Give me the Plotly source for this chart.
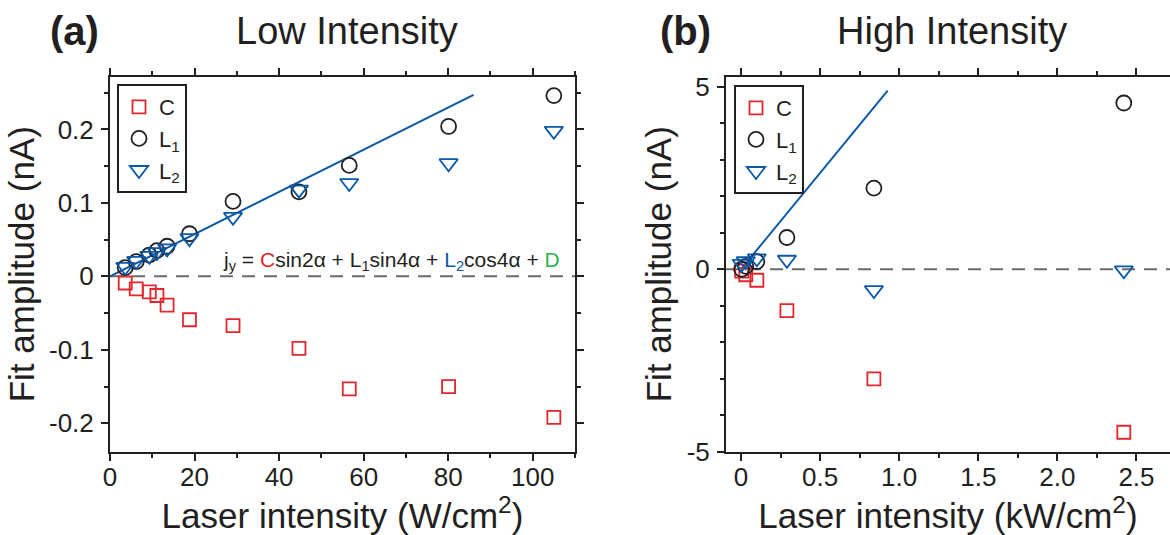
import plotly.graph_objects as go

# ---------------- data ----------------
# Panel (a): low intensity, W/cm^2
low_x_C = [3.6, 6.2, 9.3, 11.1, 13.5, 18.8, 29.1, 44.7, 56.6, 80.1, 105.0]
low_C = [-0.009, -0.017, -0.021, -0.026, -0.039, -0.059, -0.067, -0.098, -0.153, -0.150, -0.192]
low_x_L = [3.6, 6.2, 9.3, 11.1, 13.5, 18.8, 29.1, 44.7, 56.6, 80.1, 105.0]
low_L1 = [0.012, 0.020, 0.029, 0.035, 0.041, 0.058, 0.102, 0.115, 0.151, 0.204, 0.246]
low_L2 = [0.013, 0.021, 0.028, 0.033, 0.038, 0.052, 0.081, 0.118, 0.127, 0.154, 0.198]
low_fit_x = [0, 86]
low_fit_y = [0, 0.247]

# Panel (b): high intensity, kW/cm^2
high_x = [0.004, 0.03, 0.1, 0.29, 0.84, 2.42]
high_C = [-0.05, -0.15, -0.30, -1.13, -3.00, -4.46]
high_L1 = [0.0, 0.08, 0.21, 0.87, 2.22, 4.55]
high_L2 = [0.15, 0.22, 0.30, 0.26, -0.57, -0.03]
high_fit_x = [0, 0.927]
high_fit_y = [0, 4.89]

# tick labels
a_xticks = [0, 20, 40, 60, 80, 100]
a_xticktext = ["0", "20", "40", "60", "80", "100"]
a_yticks = [-0.2, -0.1, 0, 0.1, 0.2]
a_yticktext = ["-0.2", "-0.1", "0", "0.1", "0.2"]
b_xticks = [0, 0.5, 1.0, 1.5, 2.0, 2.5]
b_xticktext = ["0", "0.5", "1.0", "1.5", "2.0", "2.5"]
b_yticks = [-5, 0, 5]
b_yticktext = ["-5", "0", "5"]

# ---------------- style ----------------
W, H = 1170, 535
FONT = "Liberation Sans, Arial, Helvetica, sans-serif"
INK = "#231F20"
RED = "#E3262B"
BLUE = "#0A58A8"
GREEN = "#2DB34A"
GREY = "#6B6B6B"

fig = go.Figure()

def add_series(x, y, name, symbol, color, size, xa, ya, legend):
    fig.add_trace(go.Scatter(
        x=x, y=y, mode="markers", name=name, xaxis=xa, yaxis=ya, legend=legend,
        marker=dict(symbol=symbol, size=size, color=color,
                    line=dict(color=color, width=1.8)),
        showlegend=True))

# fit lines first (under markers)
fig.add_trace(go.Scatter(x=low_fit_x, y=low_fit_y, mode="lines", xaxis="x", yaxis="y",
                         line=dict(color=BLUE, width=2), showlegend=False, hoverinfo="skip"))
fig.add_trace(go.Scatter(x=high_fit_x, y=high_fit_y, mode="lines", xaxis="x2", yaxis="y2",
                         line=dict(color=BLUE, width=2), showlegend=False, hoverinfo="skip"))

add_series(low_x_C, low_C, "C", "square-open", RED, 13, "x", "y", "legend")
add_series(low_x_L, low_L1, "L<sub>1</sub>", "circle-open", INK, 15, "x", "y", "legend")
add_series(low_x_L, low_L2, "L<sub>2</sub>", "triangle-down-open", BLUE, 16, "x", "y", "legend")

add_series(high_x, high_C, "C", "square-open", RED, 13, "x2", "y2", "legend2")
add_series(high_x, high_L1, "L<sub>1</sub>", "circle-open", INK, 15, "x2", "y2", "legend2")
add_series(high_x, high_L2, "L<sub>2</sub>", "triangle-down-open", BLUE, 16, "x2", "y2", "legend2")

def axis(domain, rng, tickvals, ticktext, minor_dtick, title, anchor, standoff, tls):
    return dict(
        domain=domain, range=rng, anchor=anchor,
        tickmode="array", tickvals=tickvals, ticktext=ticktext,
        ticks="outside", ticklen=7, tickwidth=1.8, tickcolor=INK,
        minor=dict(dtick=minor_dtick, ticks="outside", ticklen=4, tickwidth=1.5, tickcolor=INK),
        showline=True, linecolor=INK, linewidth=2, mirror="ticks",
        showgrid=False, zeroline=False,
        tickfont=dict(family=FONT, size=26, color=INK),
        ticklabelstandoff=tls,
        title=dict(text=title, font=dict(family=FONT, size=35, color=INK), standoff=standoff),
        automargin=False, fixedrange=True,
    )

ax_a_x = [110 / W, 575 / W]
ax_b_x = [726 / W, 1.0]
ax_y = [1 - 452 / H, 1 - 76.5 / H]

fig.update_layout(
    width=W, height=H,
    margin=dict(l=0, r=0, t=0, b=0),
    paper_bgcolor="white", plot_bgcolor="white",
    font=dict(family=FONT, color=INK),
    xaxis=axis(ax_a_x, [0, 110], a_xticks, a_xticktext, 10,
               "Laser intensity (W/cm<sup>2</sup>)", "y", 8, -6),
    yaxis=axis(ax_y, [-0.239, 0.272], a_yticks, a_yticktext, 0.05,
               "Fit amplitude (nA)", "x", 4, 2),
    xaxis2=axis(ax_b_x, [-0.095, 2.712], b_xticks, b_xticktext, 0.25,
                "Laser intensity (kW/cm<sup>2</sup>)", "y2", 8, -6),
    yaxis2=axis(ax_y, [-5, 5.275], b_yticks, b_yticktext, 1,
                "Fit amplitude (nA)", "x2", 4, 2),
    legend=dict(x=117 / W, y=1 - 84 / H, xanchor="left", yanchor="top",
                bgcolor="white", bordercolor=INK, borderwidth=2,
                font=dict(family=FONT, size=22, color=INK),
                itemwidth=30, tracegroupgap=0),
    legend2=dict(x=734 / W, y=1 - 85 / H, xanchor="left", yanchor="top",
                 bgcolor="white", bordercolor=INK, borderwidth=2,
                 font=dict(family=FONT, size=22, color=INK),
                 itemwidth=30, tracegroupgap=0),
    showlegend=True,
)

# zero reference lines (dashed)
for xr, yr in (("x domain", "y"), ("x2 domain", "y2")):
    fig.add_shape(type="line", xref=xr, yref=yr, x0=0, x1=1, y0=0, y1=0,
                  line=dict(color=GREY, width=2, dash="13px,9px"), layer="below")

# equation
eq = ("j<sub>y</sub> = <span style='color:%s'>C</span>sin2α + L<sub>1</sub>sin4α + "
      "<span style='color:%s'>L<sub>2</sub></span>cos4α + <span style='color:%s'>D</span>"
      % (RED, BLUE, GREEN))
fig.add_annotation(text=eq, xref="x", yref="y", x=66.5, y=0.021, showarrow=False,
                   xanchor="center", yanchor="middle",
                   font=dict(family=FONT, size=21, color=INK))

# panel titles
for txt, xc, bold in (("(a)", 74, True), ("Low Intensity", 347, False),
                      ("(b)", 685, True), ("High Intensity", 952, False)):
    fig.add_annotation(text=("<b>%s</b>" % txt) if bold else txt,
                       xref="paper", yref="paper", x=xc / W, y=1 - 31 / H,
                       showarrow=False, xanchor="center", yanchor="middle",
                       font=dict(family=FONT, size=40 if bold else 38, color=INK))

fig.write_html("out.html")
